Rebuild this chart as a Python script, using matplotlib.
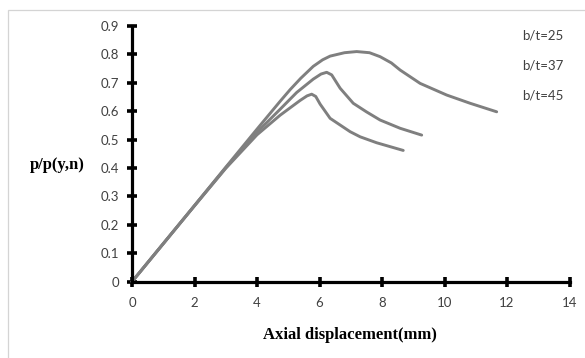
import matplotlib
matplotlib.use("Agg")
import matplotlib.pyplot as plt
from matplotlib.patches import Rectangle

# ---- data ----
x_25 = [0, 2, 3, 4, 4.74, 5.06, 5.4, 5.8, 6.1, 6.34, 6.8, 7.19, 7.6, 7.94, 8.3, 8.58, 9.22, 10.07, 10.82, 11.67]
y_25 = [0, 0.268, 0.403, 0.537, 0.635, 0.676, 0.716, 0.758, 0.781, 0.794, 0.806, 0.81, 0.806, 0.792, 0.77, 0.745, 0.698, 0.657, 0.628, 0.598]

x_37 = [0, 2, 3, 4, 4.74, 5.27, 5.8, 6.05, 6.23, 6.39, 6.66, 7.08, 7.5, 7.94, 8.58, 9.27]
y_37 = [0, 0.268, 0.401, 0.526, 0.607, 0.666, 0.713, 0.731, 0.737, 0.728, 0.681, 0.628, 0.598, 0.569, 0.54, 0.516]

x_45 = [0, 2, 3, 4, 4.74, 5.38, 5.6, 5.75, 5.88, 6.02, 6.34, 6.98, 7.3, 7.83, 8.68]
y_45 = [0, 0.267, 0.399, 0.517, 0.586, 0.638, 0.654, 0.66, 0.652, 0.625, 0.575, 0.528, 0.51, 0.489, 0.462]

series_labels = ["b/t=25", "b/t=37", "b/t=45"]
x_ticks = [0, 2, 4, 6, 8, 10, 12, 14]
y_ticks = [0, 0.1, 0.2, 0.3, 0.4, 0.5, 0.6, 0.7, 0.8, 0.9]
y_tick_labels = ["0", "0.1", "0.2", "0.3", "0.4", "0.5", "0.6", "0.7", "0.8", "0.9"]
x_title = "Axial displacement(mm)"
y_title = "p/p(y,n)"

W, H = 585, 358
fig = plt.figure(figsize=(W / 100, H / 100), dpi=100)
fig.patch.set_facecolor("white")

# outer light border (top & left visible)
fig.patches.append(Rectangle((7.5 / W, -0.1), 1.2, (H - 9.5) / H + 0.1,
                             transform=fig.transFigure, fill=False,
                             edgecolor="#d4d4d4", linewidth=0.9))

left, right = 132 / W, 569.5 / W
bottom, top = (H - 281.7) / H, (H - 26) / H
ax = fig.add_axes([left, bottom, right - left, top - bottom])

line_color = "#7f7f7f"
for xs, ys, lab in [(x_25, y_25, series_labels[0]),
                    (x_37, y_37, series_labels[1]),
                    (x_45, y_45, series_labels[2])]:
    ax.plot(xs, ys, color=line_color, linewidth=2.1, label=lab,
            solid_capstyle="round", solid_joinstyle="round", clip_on=False)

ax.set_xlim(0, 14)
ax.set_ylim(0, 0.9)
ax.set_xticks(x_ticks)
ax.set_yticks(y_ticks)
ax.set_yticklabels(y_tick_labels)

for s in ["top", "right"]:
    ax.spines[s].set_visible(False)
for s in ["left", "bottom"]:
    ax.spines[s].set_linewidth(2.3)
    ax.spines[s].set_color("black")

tick_font = "Lato"
ax.tick_params(axis="both", direction="inout", length=6.5, width=2.6,
               colors="black", labelcolor="#404040", labelsize=9.5)
ax.tick_params(axis="x", pad=8)
ax.tick_params(axis="y", pad=6)
for lbl in ax.get_xticklabels() + ax.get_yticklabels():
    lbl.set_fontfamily(tick_font)

# legend entries are text only
for i, lab in enumerate(series_labels):
    fig.text(522 / W, 1 - (36 + 30 * i) / H, lab, ha="left", va="center",
             fontsize=9.5, family=tick_font, color="#404040")

fig.text(350 / W, 1 - 335 / H, x_title, ha="center", va="center",
         fontsize=12, fontweight="bold", family="Liberation Serif")
fig.text(57 / W, 1 - 165 / H, y_title, ha="center", va="center",
         fontsize=12, fontweight="bold", family="Liberation Serif")

fig.savefig("out.png", dpi=100, facecolor="white")
